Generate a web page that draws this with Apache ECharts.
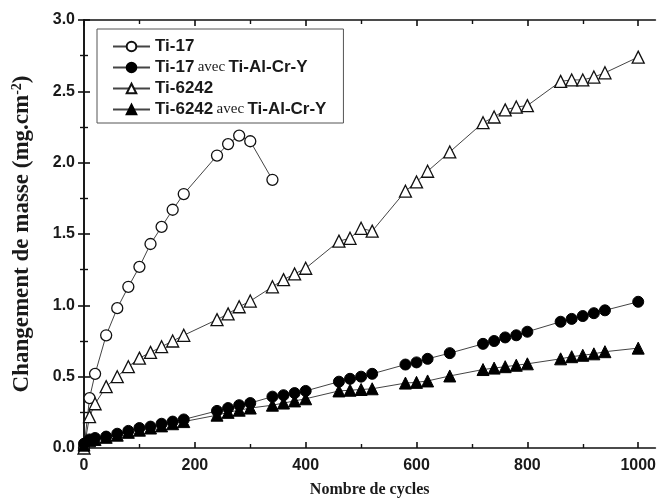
<!DOCTYPE html>
<html>
<head>
<meta charset="utf-8">
<script src="https://cdn.jsdelivr.net/npm/echarts@6/dist/echarts.min.js"></script>
<style>
html,body{margin:0;padding:0;background:#fff;}
#chart{width:659px;height:503px;}
</style>
</head>
<body>
<div id="chart"></div>
<script>
// ---- data ----
const ti17X = [0, 10, 20, 40, 60, 80, 100, 120, 140, 160, 180, 240, 260, 280, 300, 340];
const ti17Y = [0, 0.35, 0.52, 0.79, 0.98, 1.13, 1.27, 1.43, 1.55, 1.67, 1.78, 2.05, 2.13, 2.19, 2.15, 1.88];

const ti6242X = [0, 10, 20, 40, 60, 80, 100, 120, 140, 160, 180, 240, 260, 280, 300, 340, 360, 380, 400,
  460, 480, 500, 520, 580, 600, 620, 660, 720, 740, 760, 780, 800, 860, 880, 900, 920, 940, 1000];
const ti6242Y = [0, 0.22, 0.31, 0.43, 0.50, 0.57, 0.63, 0.67, 0.71, 0.75, 0.79, 0.90, 0.94, 0.99, 1.03, 1.13, 1.18, 1.22, 1.26,
  1.45, 1.47, 1.54, 1.52, 1.80, 1.865, 1.94, 2.075, 2.28, 2.32, 2.37, 2.39, 2.40, 2.57, 2.58, 2.58, 2.60, 2.63, 2.74];

const coatedX = [0, 10, 20, 40, 60, 80, 100, 120, 140, 160, 180, 240, 260, 280, 300, 340, 360, 380, 400,
  460, 480, 500, 520, 580, 600, 620, 660, 720, 740, 760, 780, 800, 860, 880, 900, 920, 940, 1000];
const ti17CoatY = [0.03, 0.06, 0.07, 0.08, 0.10, 0.12, 0.14, 0.15, 0.17, 0.185, 0.20, 0.26, 0.28, 0.30, 0.315, 0.36, 0.37, 0.385, 0.40,
  0.465, 0.485, 0.50, 0.52, 0.585, 0.60, 0.625, 0.665, 0.73, 0.75, 0.775, 0.79, 0.815, 0.885, 0.905, 0.925, 0.945, 0.965, 1.025];
const ti6242CoatY = [0.02, 0.05, 0.06, 0.075, 0.09, 0.11, 0.125, 0.14, 0.155, 0.17, 0.185, 0.23, 0.25, 0.265, 0.28, 0.30, 0.315, 0.33, 0.345,
  0.40, 0.405, 0.41, 0.415, 0.455, 0.46, 0.47, 0.505, 0.55, 0.56, 0.57, 0.58, 0.59, 0.625, 0.64, 0.65, 0.66, 0.675, 0.70];

const seriesNames = ['Ti-17', 'Ti-17 avec Ti-Al-Cr-Y', 'Ti-6242', 'Ti-6242 avec Ti-Al-Cr-Y'];
const xMajorTicks = [0, 200, 400, 600, 800, 1000];
const xMinorTicks = [100, 300, 500, 700, 900];

const zip = (xs, ys) => xs.map((x, i) => [x, ys[i]]);

const chart = echarts.init(document.getElementById('chart'), null, {renderer: 'canvas'});

const AX = {lineStyle: {color: '#111', width: 1.6}};
const sansBold = {fontFamily: 'Liberation Sans, Arial, sans-serif', fontWeight: 'bold', fontSize: 16, color: '#1a1a1a'};
const serif = 'Liberation Serif, Times New Roman, serif';
const XMAX = 1031;

function mkSeries(name, data, symbol, filled, size) {
  return {
    name: name, type: 'line', data: data, symbol: symbol, symbolSize: size,
    showSymbol: true,
    lineStyle: {color: '#444', width: 1},
    itemStyle: filled ? {color: '#000', borderColor: '#000', borderWidth: 1}
                      : {color: '#fff', borderColor: '#111', borderWidth: 1.3},
    emphasis: {disabled: true},
    xAxisIndex: 0, yAxisIndex: 0
  };
}

const option = {
  animation: false,
  backgroundColor: '#fff',
  grid: {left: 84, right: 1, top: 20, bottom: 54, containLabel: false},
  legend: {
    orient: 'vertical', left: 97, top: 29,
    padding: [9, 17, 5, 15], itemGap: 4, itemWidth: 37, itemHeight: 12,
    borderColor: '#555', borderWidth: 1,
    data: seriesNames,
    formatter: function (n) {
      const parts = n.split(' avec ');
      if (parts.length === 2) return '{b|' + parts[0] + '} {s|avec} {b|' + parts[1] + '}';
      return '{b|' + n + '}';
    },
    textStyle: {
      rich: {
        b: {fontFamily: 'Liberation Sans, Arial, sans-serif', fontWeight: 'bold', fontSize: 17, color: '#1a1a1a', height: 16},
        s: {fontFamily: serif, fontSize: 15, color: '#1a1a1a', height: 16}
      }
    }
  },
  xAxis: [
    {type: 'value', position: 'bottom', min: 0, max: XMAX,
     name: 'Nombre de cycles', nameLocation: 'middle', nameGap: 34,
     nameTextStyle: {fontFamily: serif, fontWeight: 'bold', fontSize: 16, color: '#1a1a1a'},
     axisLine: AX, splitLine: {show: false},
     axisTick: {inside: true, length: 6, lineStyle: {color: '#111', width: 1.6}, customValues: xMajorTicks},
     axisLabel: Object.assign({margin: 10, customValues: xMajorTicks, formatter: v => String(v)}, sansBold)},
    {type: 'value', position: 'bottom', min: 0, max: XMAX,
     axisLine: {show: false}, splitLine: {show: false},
     axisTick: {inside: true, length: 4, lineStyle: {color: '#111', width: 1.4}, customValues: xMinorTicks},
     axisLabel: {show: false}},
    {type: 'value', position: 'top', min: 0, max: XMAX,
     axisLine: AX, splitLine: {show: false},
     axisTick: {inside: true, length: 6, lineStyle: {color: '#111', width: 1.6}, customValues: xMajorTicks},
     axisLabel: {show: false}},
    {type: 'value', position: 'top', min: 0, max: XMAX,
     axisLine: {show: false}, splitLine: {show: false},
     axisTick: {inside: true, length: 4, lineStyle: {color: '#111', width: 1.4}, customValues: xMinorTicks},
     axisLabel: {show: false}}
  ],
  yAxis: [
    {type: 'value', position: 'left', min: 0, max: 3, interval: 0.5,
     name: 'Changement de masse (mg.cm{sup|-2})', nameLocation: 'middle', nameGap: 50,
     nameTextStyle: {fontFamily: serif, fontWeight: 'bold', fontSize: 23, color: '#1a1a1a',
       rich: {sup: {fontFamily: serif, fontWeight: 'bold', fontSize: 14, color: '#1a1a1a', verticalAlign: 'top', padding: [0, 0, 10, 0]}}},
     axisLine: AX, splitLine: {show: false},
     axisTick: {inside: true, length: 6, lineStyle: {color: '#111', width: 1.6}},
     minorTick: {show: true, splitNumber: 2, length: 4, lineStyle: {color: '#111', width: 1.4}},
     axisLabel: Object.assign({margin: 9, formatter: v => v.toFixed(1)}, sansBold)},
    {type: 'value', position: 'right', min: 0, max: 3, interval: 0.5,
     axisLine: AX, splitLine: {show: false},
     axisTick: {inside: true, length: 6, lineStyle: {color: '#111', width: 1.6}},
     minorTick: {show: true, splitNumber: 2, length: 4, lineStyle: {color: '#111', width: 1.4}},
     axisLabel: {show: false}}
  ],
  series: [
    mkSeries(seriesNames[0], zip(ti17X, ti17Y), 'circle', false, 11),
    mkSeries(seriesNames[1], zip(coatedX, ti17CoatY), 'circle', true, 11),
    mkSeries(seriesNames[2], zip(ti6242X, ti6242Y), 'triangle', false, 12),
    mkSeries(seriesNames[3], zip(coatedX, ti6242CoatY), 'triangle', true, 12)
  ]
};
chart.setOption(option);
</script>
</body>
</html>
